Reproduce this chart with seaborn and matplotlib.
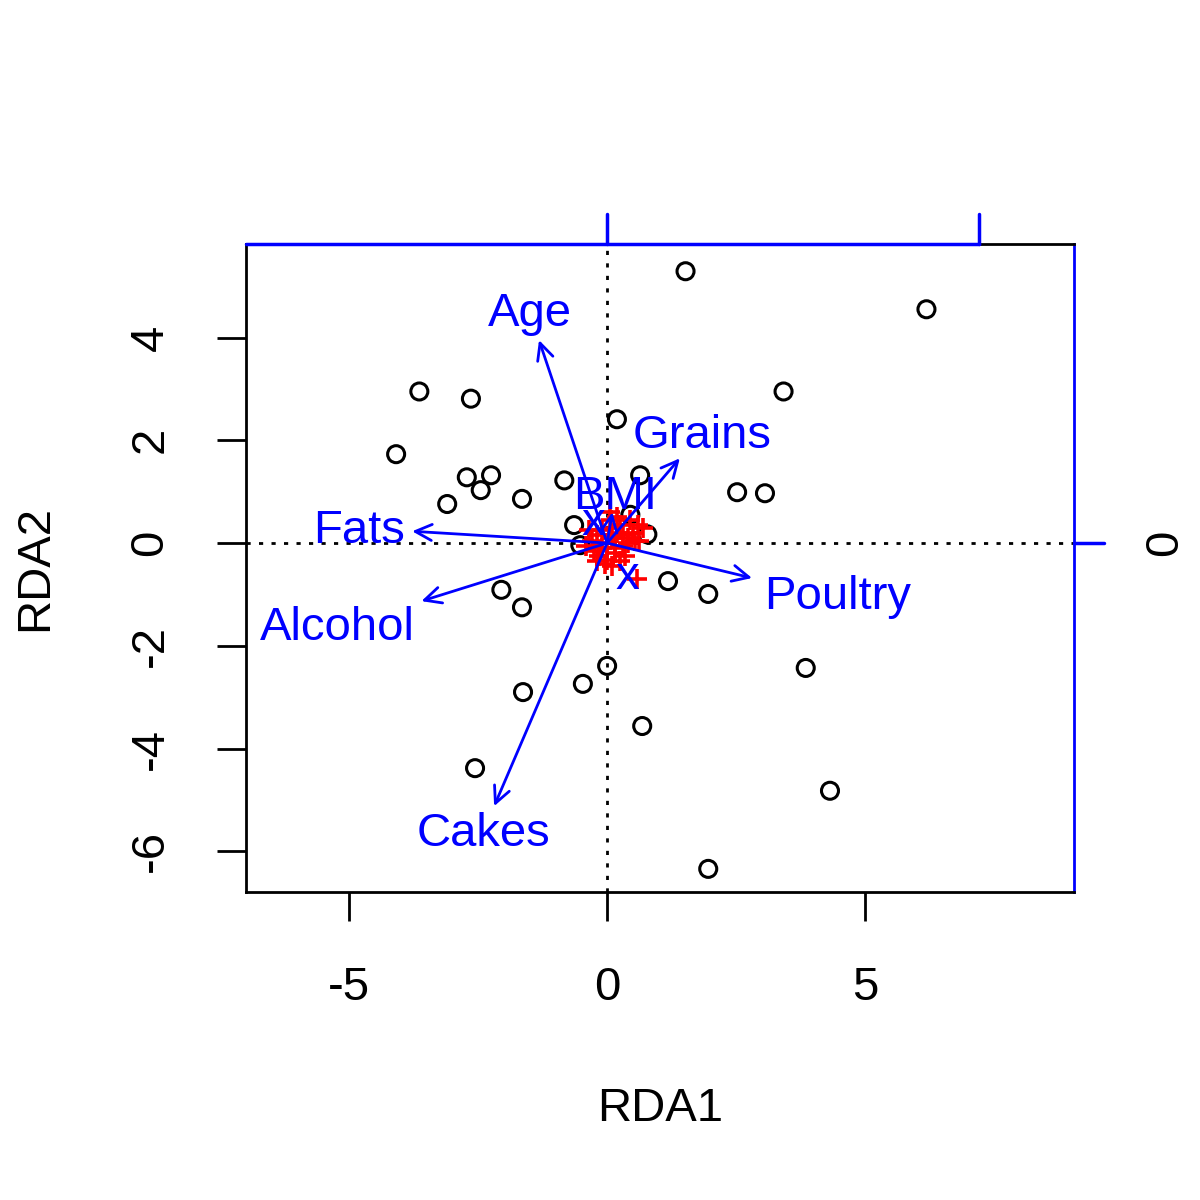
import numpy as np
import pandas as pd
import matplotlib
matplotlib.use("Agg")
import matplotlib.pyplot as plt
import seaborn as sns

# site scores (black circles)
site_x = [1.52, 6.19, -3.64, -2.64, 3.42, 0.19, -4.09, 0.64, -2.72, -2.25, -0.83,
          -2.45, -1.65, -3.10, 2.52, 3.06, -0.64, 0.78, -0.52, 1.18, 1.96, -2.05,
          -1.65, 0.0, 3.85, -0.47, -1.63, 0.68, -2.56, 4.32, 1.96, 0.45]
site_y = [5.29, 4.55, 2.95, 2.81, 2.95, 2.41, 1.73, 1.32, 1.28, 1.32, 1.22,
          1.03, 0.86, 0.76, 0.99, 0.97, 0.35, 0.17, -0.04, -0.74, -0.99, -0.91,
          -1.25, -2.39, -2.43, -2.74, -2.90, -3.56, -4.38, -4.82, -6.34, 0.55]

# species scores (red plus)
spp_x = [0.0, 0.1, -0.1, 0.2, -0.2, 0.3, -0.3, 0.15, -0.15, 0.05, 0.25, -0.25,
         0.4, -0.4, 0.35, 0.5, 0.6, 0.45, -0.05, 0.1, -0.1, 0.2, 0.0, 0.3,
         0.55, 0.7, -0.35, 0.05, 0.15, 0.58, 0.62, 0.25, -0.2, 0.4, 0.08]
spp_y = [0.0, 0.1, -0.1, 0.2, 0.15, -0.05, 0.05, -0.2, -0.25, 0.3, 0.35, -0.15,
         0.1, -0.05, -0.25, 0.2, 0.35, 0.45, -0.4, -0.45, 0.25, 0.5, -0.32, 0.15,
         0.05, 0.3, 0.25, 0.6, -0.1, -0.70, 0.05, -0.35, -0.35, 0.0, 0.45]

# environmental arrows
env_names = ["Age", "Grains", "BMI", "Fats", "Poultry", "Alcohol", "Cakes"]
env_x = [-1.32, 1.41, 0.10, -3.78, 2.81, -3.60, -2.19]
env_y = [3.95, 1.65, 0.60, 0.23, -0.68, -1.13, -5.12]
lab_x = [-1.49, 1.84, 0.15, -4.81, 4.46, -5.23, -2.39]
lab_y = [4.45, 2.09, 0.90, 0.23, -1.05, -1.65, -5.67]

# factor centroids
cen_x = [0.39, -0.27]
cen_y = [-0.66, 0.40]

sites = pd.DataFrame({"RDA1": site_x, "RDA2": site_y})
spp = pd.DataFrame({"RDA1": spp_x, "RDA2": spp_y})

sns.set_style("white")
plt.rcParams["font.family"] = ["Liberation Sans", "DejaVu Sans"]
plt.rcParams["font.size"] = 34
plt.rcParams["text.color"] = "black"
plt.rcParams["axes.labelcolor"] = "black"
plt.rcParams["xtick.color"] = "black"
plt.rcParams["ytick.color"] = "black"

fig = plt.figure(figsize=(12, 12), dpi=100)
ax = fig.add_axes([246 / 1200, 308 / 1200, 828 / 1200, 648 / 1200])

ax.axhline(0, color="black", ls=(0, (1.5, 3)), lw=2, zorder=1)
ax.axvline(0, color="black", ls=(0, (1.5, 3)), lw=2, zorder=1)

sns.scatterplot(data=sites, x="RDA1", y="RDA2", ax=ax, marker="o", s=150,
                facecolor="none", edgecolor="black", linewidth=2.2, zorder=3)
sns.scatterplot(data=spp, x="RDA1", y="RDA2", ax=ax, marker="+", s=200,
                color="red", linewidth=2.6, zorder=4)

for nx, ny, lx, ly, name in zip(env_x, env_y, lab_x, lab_y, env_names):
    ax.annotate("", xy=(nx, ny), xytext=(0, 0),
                arrowprops=dict(arrowstyle="->,head_length=0.35,head_width=0.17",
                                color="blue", lw=2, shrinkA=0, shrinkB=0),
                zorder=5)
    ax.text(lx, ly, name, color="blue", fontsize=34, ha="center", va="center",
            zorder=6)

for cx, cy in zip(cen_x, cen_y):
    ax.text(cx, cy, "x", color="blue", fontsize=34, ha="center", va="center",
            zorder=6)

ax.set_xlim(-7.0, 9.05)
ax.set_ylim(-6.79, 5.82)
ax.set_xticks([-5, 0, 5])
ax.set_yticks([-6, -4, -2, 0, 2, 4])
ax.set_xticklabels(["-5", "0", "5"])
ax.set_yticklabels(["-6", "-4", "-2", "0", "2", "4"], rotation=90, va="center")
ax.tick_params(axis="both", direction="out", length=21, width=2, color="black",
               labelcolor="black", labelsize=34, pad=32, bottom=True, left=True)
ax.set_xlabel("RDA1", fontsize=34, labelpad=56, color="black")
ax.set_ylabel("RDA2", fontsize=34, labelpad=51, color="black")
for side in ax.spines.values():
    side.set_color("black")
    side.set_linewidth(2)

# secondary axes (blue) on top and right, as in vegan biplot
ax.spines["right"].set_color("blue")
trans_top = ax.get_xaxis_transform()
ax.plot([-7.0, 7.2], [1, 1], color="blue", lw=2.5, transform=trans_top,
        clip_on=False, zorder=7)
for tx in [0, 7.2]:
    ax.plot([tx, tx], [1, 1.046], color="blue", lw=2.5, transform=trans_top,
            clip_on=False, zorder=7)
trans_right = ax.get_yaxis_transform()
ax.plot([1, 1.036], [0, 0], color="blue", lw=2.5, transform=trans_right,
        clip_on=False, zorder=7)
ax.text(1.11, 0, "0", rotation=90, ha="center", va="center", fontsize=34,
        color="black", transform=trans_right)

fig.savefig("out.png", dpi=100)
